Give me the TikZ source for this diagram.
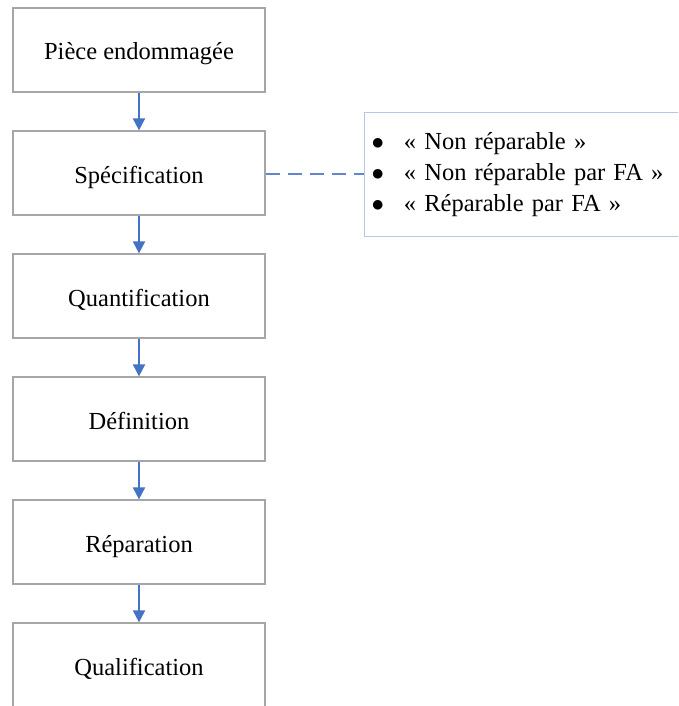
\documentclass[tikz,border=0pt]{standalone}
\usepackage{fontspec}
\setmainfont{Liberation Serif}
\usepackage{xcolor}
\usepackage{tikz}
\usetikzlibrary{positioning}
\usetikzlibrary{arrows.meta}
\definecolor{boxgray}{HTML}{A6A6A6}
\definecolor{flowblue}{HTML}{4472C4}
\definecolor{listblue}{HTML}{B4C7E7}
\tikzset{
    stepbox/.style = {draw=boxgray, line width=1.2pt, fill=white,
        minimum width=252pt, minimum height=84pt, inner sep=0pt,
        text height=20pt, text depth=0pt,
        font=\fontsize{24.5}{31}\selectfont},
    listbox/.style = {draw=listblue, line width=1pt, fill=white, anchor=west,
        minimum width=340pt, minimum height=123pt, inner xsep=7pt,
        text width=326pt, align=left,
        font=\fontsize{24.5}{31}\selectfont},
    flow/.style = {draw=flowblue, line width=1.8pt,
        -{Triangle[width=12pt,length=12pt]}},
    link/.style = {draw=flowblue!85, line width=1.5pt, dash pattern=on 14pt off 8pt}
}

\begin{document}
\begin{tikzpicture}[x=1pt, y=-1pt]
    \path[use as bounding box, clip] (0, 0) rectangle (678, 706);
    \fill[white] (0, 0) rectangle (678, 706);

    \node [stepbox] (piece) at (139, 50) {Pièce endommagée};
    \node [stepbox] (spec) at (139, 173) {Spécification};
    \node [stepbox] (quant) at (139, 296) {Quantification};
    \node [stepbox] (defin) at (139, 419) {Définition};
    \node [stepbox] (repar) at (139, 542) {Réparation};
    \node [stepbox] (qualif) at (139, 665) {Qualification};

    \node [listbox] (etats) at (364, 174.5) {\raisebox{-2pt}{%
        \begin{tabular}{@{}l@{\hspace{20pt}}l@{}}
        $\bullet$ & « Non réparable » \\
        $\bullet$ & « Non réparable par FA » \\
        $\bullet$ & « Réparable par FA »
        \end{tabular}}};

    \draw [flow] (piece) -- (spec);
    \draw [flow] (spec) -- (quant);
    \draw [flow] (quant) -- (defin);
    \draw [flow] (defin) -- (repar);
    \draw [flow] (repar) -- (qualif);
    \draw [link] ([yshift=-1pt]spec.east) -- ([yshift=-1pt]spec.east -| etats.west);
\end{tikzpicture}
\end{document}
